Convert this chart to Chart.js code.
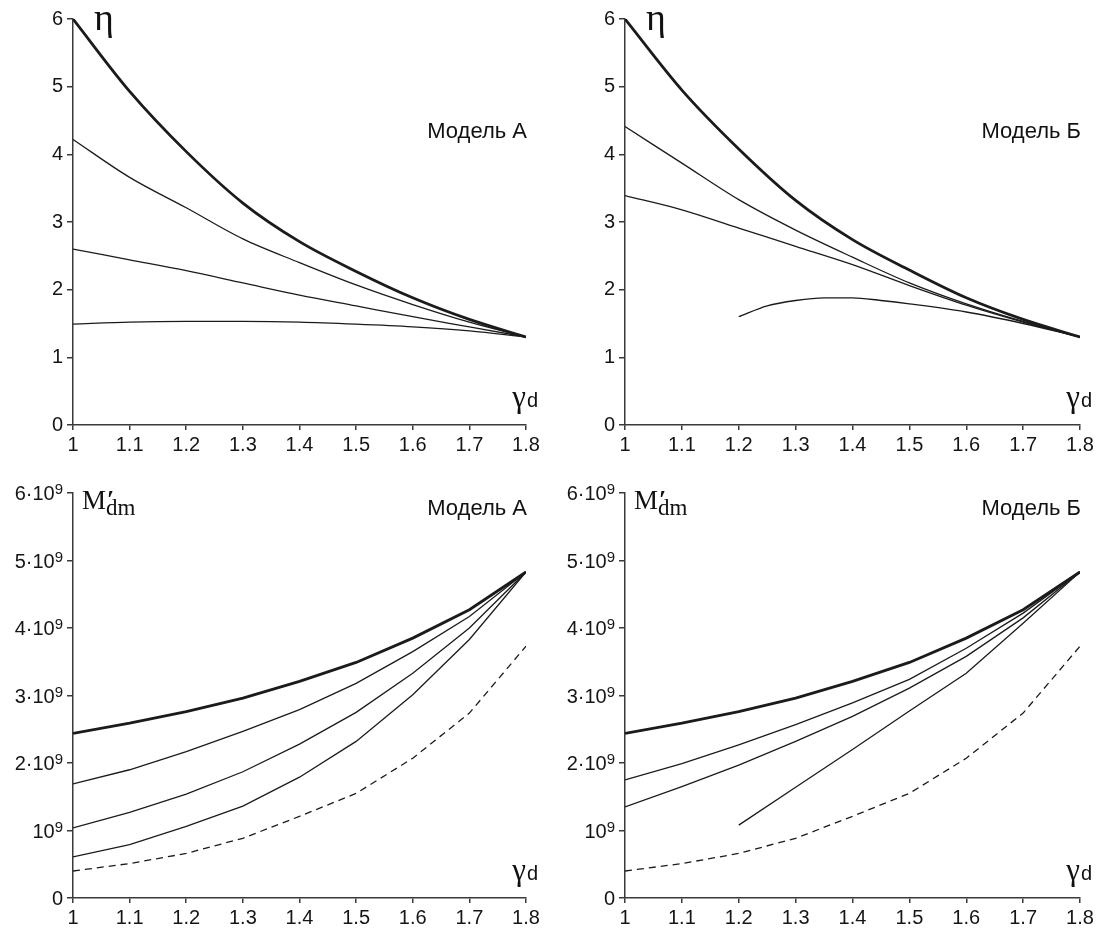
<!DOCTYPE html>
<html>
<head>
<meta charset="utf-8">
<title>η и M′dm в зависимости от γd</title>
<script src="https://cdn.jsdelivr.net/npm/chart.js@4.4.1/dist/chart.umd.min.js"></script>
<style>
  body { margin: 0; background: #fff; }
  #wrap { position: relative; width: 1104px; height: 934px; }
  canvas { position: absolute; }
</style>
</head>
<body>
<div id="wrap">
  <canvas id="etaA" width="552" height="467" style="left:0;top:0"></canvas>
  <canvas id="etaB" width="552" height="467" style="left:552px;top:0"></canvas>
  <canvas id="massA" width="552" height="467" style="left:0;top:467px"></canvas>
  <canvas id="massB" width="552" height="467" style="left:552px;top:467px"></canvas>
</div>
<script>
// gamma_d grid
const gammaD = [1, 1.1, 1.2, 1.3, 1.4, 1.5, 1.6, 1.7, 1.8];
const gammaTickLabels = ['1', '1.1', '1.2', '1.3', '1.4', '1.5', '1.6', '1.7', '1.8'];

// eta, model A (first one is the bold curve)
const etaA1 = [6.0, 4.93, 4.04, 3.28, 2.71, 2.27, 1.88, 1.56, 1.30];
const etaA2 = [4.22, 3.66, 3.21, 2.75, 2.40, 2.07, 1.78, 1.52, 1.30];
const etaA3 = [2.60, 2.44, 2.28, 2.10, 1.92, 1.76, 1.60, 1.45, 1.30];
const etaA4 = [1.49, 1.52, 1.53, 1.53, 1.52, 1.49, 1.45, 1.39, 1.30];

// eta, model B
const etaB1 = [6.0, 4.95, 4.08, 3.32, 2.74, 2.29, 1.88, 1.56, 1.30];
const etaB2 = [4.41, 3.87, 3.33, 2.88, 2.48, 2.10, 1.79, 1.53, 1.30];
const etaB3 = [3.39, 3.18, 2.91, 2.64, 2.37, 2.06, 1.77, 1.52, 1.30];
const gammaB4 = [1.2, 1.25, 1.3, 1.35, 1.4, 1.45, 1.5, 1.6, 1.7, 1.8];
const etaB4 = [1.60, 1.76, 1.84, 1.88, 1.88, 1.84, 1.79, 1.67, 1.50, 1.30];

// M'dm in units of 10^9, model A (last one is the dashed curve)
const massA1 = [2.44, 2.59, 2.76, 2.96, 3.21, 3.49, 3.85, 4.27, 4.83];
const massA2 = [1.69, 1.90, 2.17, 2.47, 2.79, 3.18, 3.65, 4.17, 4.83];
const massA3 = [1.04, 1.27, 1.54, 1.87, 2.28, 2.75, 3.33, 4.00, 4.83];
const massA4 = [0.61, 0.79, 1.06, 1.36, 1.79, 2.32, 3.01, 3.83, 4.83];
const massLow = [0.40, 0.51, 0.66, 0.885, 1.21, 1.55, 2.07, 2.74, 3.73];

// M'dm, model B
const massB1 = [2.44, 2.59, 2.76, 2.96, 3.21, 3.49, 3.85, 4.27, 4.83];
const massB2 = [1.75, 1.99, 2.27, 2.57, 2.89, 3.24, 3.70, 4.22, 4.83];
const massB3 = [1.35, 1.65, 1.97, 2.32, 2.69, 3.11, 3.58, 4.15, 4.83];
const gammaB4m = [1.2, 1.3, 1.4, 1.5, 1.6, 1.7, 1.8];
const massB4 = [1.08, 1.64, 2.20, 2.77, 3.33, 4.07, 4.83];

const etaTickLabels = ['0', '1', '2', '3', '4', '5', '6'];
// mantissa part of the 10^9 labels; the exponent is drawn raised
const massTickBase = ['0', '10', '2·10', '3·10', '4·10', '5·10', '6·10'];
const massTickExp = ['', '9', '9', '9', '9', '9', '9'];

const INK = '#1b1b1b';
const AXIS = '#3a3a3a';
const LABEL = '#151515';
const SANS = '"Liberation Sans", Arial, sans-serif';
const SERIF = '"Liberation Serif", "Times New Roman", serif';

function pts(xs, ys) {
  return ys.map((y, i) => ({ x: xs[i], y: y }));
}

function line(xs, ys, opts) {
  return Object.assign({
    data: pts(xs, ys),
    borderColor: INK,
    borderWidth: 1.3,
    pointRadius: 0,
    fill: false,
    tension: 0
  }, opts || {});
}

// axis titles, model name and the 10^9 tick labels
const panelText = {
  id: 'panelText',
  afterDraw(chart, args, o) {
    const ctx = chart.ctx;
    const a = chart.chartArea;
    ctx.save();
    ctx.fillStyle = '#111';
    ctx.textBaseline = 'alphabetic';

    ctx.font = '22px ' + SANS;
    ctx.textAlign = 'right';
    ctx.fillText(o.model, a.right + 1, a.top + o.modelDy);

    // gamma_d
    ctx.font = '20px ' + SANS;
    ctx.fillText('d', a.right + 12, a.bottom - 18);
    const dw = ctx.measureText('d').width;
    ctx.font = '31px ' + SERIF;
    ctx.fillText('γ', a.right + 11 - dw, a.bottom - 18);

    ctx.textAlign = 'left';
    if (o.kind === 'eta') {
      ctx.font = '38px ' + SERIF;
      ctx.fillText('η', a.left + 21, a.top + 11);
    } else {
      ctx.font = '27px ' + SERIF;
      ctx.fillText('M', a.left + 9, a.top + 16);
      const mw = ctx.measureText('M').width;
      ctx.font = 'bold 26px ' + SERIF;
      ctx.fillText('′', a.left + 9 + mw + 1, a.top + 15);
      ctx.font = '23px ' + SERIF;
      ctx.fillText('dm', a.left + 9 + mw, a.top + 22);

      // y tick labels with a raised exponent
      const ys = chart.scales.y;
      ctx.fillStyle = LABEL;
      ctx.textAlign = 'right';
      ys.ticks.forEach((t, i) => {
        const py = ys.getPixelForValue(t.value);
        let x = a.left - 10;
        if (massTickExp[i]) {
          ctx.font = '15px ' + SANS;
          ctx.fillText(massTickExp[i], x, py + 1);
          x -= ctx.measureText(massTickExp[i]).width;
        }
        ctx.font = '20px ' + SANS;
        ctx.fillText(massTickBase[i], x, py + 7);
      });
    }
    ctx.restore();
  }
};

function makeChart(id, datasets, kind, model, xHeight, topPad, rightPad) {
  return new Chart(document.getElementById(id), {
    type: 'line',
    data: { datasets: datasets },
    plugins: [panelText],
    options: {
      responsive: false,
      animation: false,
      layout: { padding: { top: topPad, right: rightPad, left: 0, bottom: 0 } },
      plugins: {
        legend: { display: false },
        tooltip: { enabled: false },
        panelText: { kind: kind, model: model, modelDy: kind === 'eta' ? 119 : 22 }
      },
      scales: {
        x: {
          type: 'linear',
          min: 1,
          max: 1.8,
          afterFit: s => { s.height = xHeight; },
          ticks: {
            stepSize: 0.1,
            color: LABEL,
            padding: 3,
            font: { family: SANS, size: 20 },
            maxRotation: 0,
            callback: (v, i) => gammaTickLabels[i]
          },
          grid: { drawOnChartArea: false, drawTicks: true, tickLength: 5, color: AXIS, lineWidth: 1.5 },
          border: { display: true, color: AXIS, width: 1.5 }
        },
        y: {
          type: 'linear',
          min: 0,
          max: 6,
          afterFit: s => { s.width = 73; },
          ticks: {
            stepSize: 1,
            color: kind === 'eta' ? LABEL : 'rgba(0,0,0,0)',
            padding: 4,
            font: { family: SANS, size: 20 },
            callback: (v, i) => kind === 'eta' ? etaTickLabels[i] : massTickBase[i]
          },
          grid: { drawOnChartArea: false, drawTicks: true, tickLength: 6, color: AXIS, lineWidth: 1.5 },
          border: { display: true, color: AXIS, width: 1.5 }
        }
      }
    }
  });
}

makeChart('etaA', [
  line(gammaD, etaA1, { borderWidth: 2.8, cubicInterpolationMode: 'monotone' }),
  line(gammaD, etaA2, { cubicInterpolationMode: 'monotone' }),
  line(gammaD, etaA3, { cubicInterpolationMode: 'monotone' }),
  line(gammaD, etaA4, { cubicInterpolationMode: 'monotone' })
], 'eta', 'Модель А', 42, 19, 26);

makeChart('etaB', [
  line(gammaD, etaB1, { borderWidth: 2.8, cubicInterpolationMode: 'monotone' }),
  line(gammaD, etaB2, { cubicInterpolationMode: 'monotone' }),
  line(gammaD, etaB3, { cubicInterpolationMode: 'monotone' }),
  line(gammaB4, etaB4, { cubicInterpolationMode: 'monotone' })
], 'eta', 'Модель Б', 42, 19, 24);

makeChart('massA', [
  line(gammaD, massA1, { borderWidth: 2.8 }),
  line(gammaD, massA2),
  line(gammaD, massA3),
  line(gammaD, massA4),
  line(gammaD, massLow, { borderDash: [7, 5] })
], 'mass', 'Модель А', 36, 26, 26);

makeChart('massB', [
  line(gammaD, massB1, { borderWidth: 2.8 }),
  line(gammaD, massB2),
  line(gammaD, massB3),
  line(gammaB4m, massB4),
  line(gammaD, massLow, { borderDash: [7, 5] })
], 'mass', 'Модель Б', 36, 26, 24);
</script>
</body>
</html>
